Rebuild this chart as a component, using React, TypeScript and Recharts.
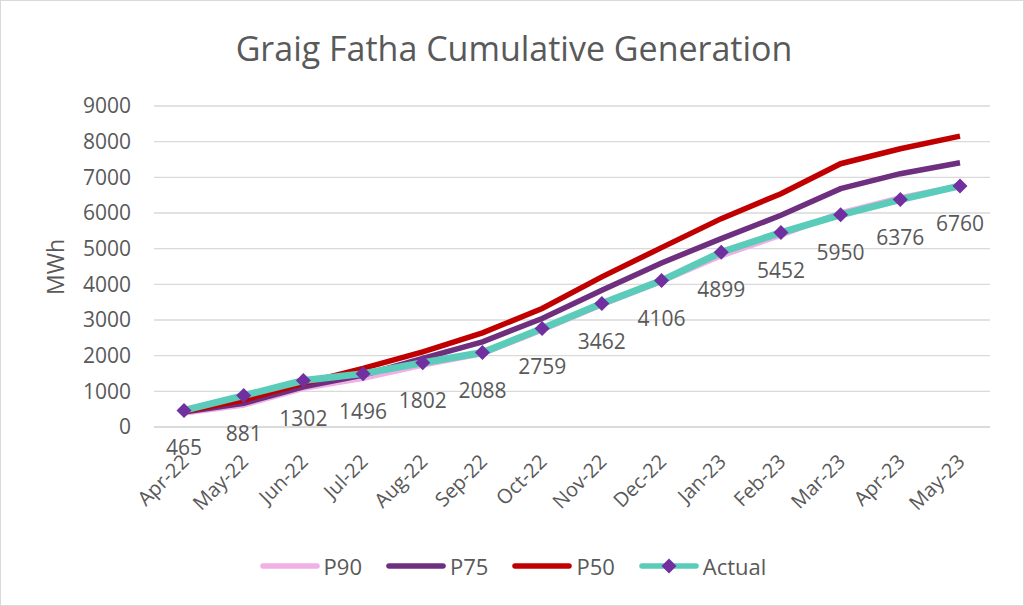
import React from "react";
import { CartesianGrid, Line, LineChart, XAxis, YAxis } from "recharts";

const months = [
  "Apr-22", "May-22", "Jun-22", "Jul-22", "Aug-22", "Sep-22", "Oct-22",
  "Nov-22", "Dec-22", "Jan-23", "Feb-23", "Mar-23", "Apr-23", "May-23",
];
const p90 = [390, 616, 1083, 1363, 1736, 2060, 2720, 3430, 4090, 4800, 5380, 6000, 6430, 6760];
const p75 = [420, 663, 1129, 1456, 1923, 2389, 3043, 3835, 4600, 5282, 5935, 6682, 7102, 7410];
const p50 = [430, 756, 1223, 1643, 2108, 2640, 3322, 4209, 5030, 5842, 6542, 7382, 7800, 8155];
const actual = [465, 881, 1302, 1496, 1802, 2088, 2759, 3462, 4106, 4899, 5452, 5950, 6376, 6760];
const yTicks = [0, 1000, 2000, 3000, 4000, 5000, 6000, 7000, 8000, 9000];

const data = months.map((month, i) => ({
  month,
  P90: p90[i],
  P75: p75[i],
  P50: p50[i],
  Actual: actual[i],
}));

const FONT = "'Open Sans', sans-serif";
const TEXT = "#595959";
const colors = { P90: "#F0B0E6", P75: "#6F2F7F", P50: "#C00000", Actual: "#5BCBBA", marker: "#7030A0" };

function Diamond({ cx, cy, r = 7.5 }: { cx: number; cy: number; r?: number }) {
  return (
    <polygon
      points={`${cx},${cy - r} ${cx + r},${cy} ${cx},${cy + r} ${cx - r},${cy}`}
      fill={colors.marker}
    />
  );
}

function ActualDot(props: any) {
  const { cx, cy, index } = props;
  if (cx == null || cy == null) return null;
  return <Diamond key={`d-${index}`} cx={cx} cy={cy} />;
}

function ActualLabel(props: any) {
  const { x, y, value } = props;
  return (
    <text x={x} y={y + 37} textAnchor="middle" dominantBaseline="central" fill={TEXT} fontSize={21} fontFamily={FONT}>
      {value}
    </text>
  );
}

function MonthTick(props: any) {
  const { x, y, payload } = props;
  const ax = x + 6;
  const ay = y + 28;
  return (
    <text
      x={ax}
      y={ay}
      textAnchor="end"
      fill={TEXT}
      fontSize={20}
      fontFamily={FONT}
      transform={`rotate(-45 ${ax} ${ay})`}
    >
      {payload.value}
    </text>
  );
}

function ChartLegend() {
  const items: { key: keyof typeof colors; label: string }[] = [
    { key: "P90", label: "P90" },
    { key: "P75", label: "P75" },
    { key: "P50", label: "P50" },
    { key: "Actual", label: "Actual" },
  ];
  return (
    <div
      style={{
        position: "absolute",
        top: 550,
        left: 0,
        width: 1048,
        display: "flex",
        justifyContent: "center",
        alignItems: "center",
        fontFamily: FONT,
        fontSize: 22,
        color: TEXT,
      }}
    >
      {items.map((it) => (
        <div key={it.key} style={{ display: "flex", alignItems: "center", marginRight: 24 }}>
          <svg width={60} height={18}>
            <line x1={3} y1={9} x2={57} y2={9} stroke={colors[it.key]} strokeWidth={5.5} strokeLinecap="round" />
            {it.key === "Actual" && <Diamond cx={30} cy={9} />}
          </svg>
          <span style={{ marginLeft: 4 }}>{it.label}</span>
        </div>
      ))}
    </div>
  );
}

export default function App() {
  return (
    <div
      style={{
        position: "absolute",
        left: 0,
        top: 0,
        width: 1024,
        height: 606,
        background: "#fff",
        boxSizing: "border-box",
        border: "1px solid #d9d9d9",
        overflow: "hidden",
      }}
    >
      <div
        style={{
          position: "absolute",
          top: 23,
          left: 0,
          width: 1026,
          textAlign: "center",
          fontFamily: FONT,
          fontSize: 34,
          color: TEXT,
          lineHeight: "48px",
        }}
      >
        Graig Fatha Cumulative Generation
      </div>
      <div style={{ position: "absolute", left: -1, top: -1 }}>
        <LineChart width={1024} height={606} data={data} margin={{ top: 106, right: 34, bottom: 0, left: 0 }}>
          <CartesianGrid vertical={false} stroke="#d9d9d9" strokeWidth={1.3} />
          <XAxis
            dataKey="month"
            height={179}
            padding={{ left: 30, right: 30 }}
            stroke="#d9d9d9"
            strokeWidth={1.3}
            tickLine={false}
            interval={0}
            tick={<MonthTick />}
          />
          <YAxis
            width={154}
            domain={[0, 9000]}
            ticks={yTicks}
            axisLine={false}
            tickLine={false}
            tickSize={0}
            tickMargin={23}
            tick={{ fill: TEXT, fontSize: 21, fontFamily: FONT }}
            label={() => (
              <text
                x={55}
                y={267}
                textAnchor="middle"
                dominantBaseline="central"
                fill={TEXT}
                fontSize={23}
                fontFamily={FONT}
                transform="rotate(-90 55 267)"
              >
                MWh
              </text>
            )}
          />
          <Line type="linear" dataKey="P90" stroke={colors.P90} strokeWidth={5.5} dot={false} isAnimationActive={false} />
          <Line type="linear" dataKey="P75" stroke={colors.P75} strokeWidth={5.5} dot={false} isAnimationActive={false} />
          <Line type="linear" dataKey="P50" stroke={colors.P50} strokeWidth={5.5} dot={false} isAnimationActive={false} />
          <Line
            type="linear"
            dataKey="Actual"
            stroke={colors.Actual}
            strokeWidth={7}
            dot={<ActualDot />}
            activeDot={false}
            label={<ActualLabel />}
            isAnimationActive={false}
          />
        </LineChart>
      </div>
      <ChartLegend />
    </div>
  );
}
